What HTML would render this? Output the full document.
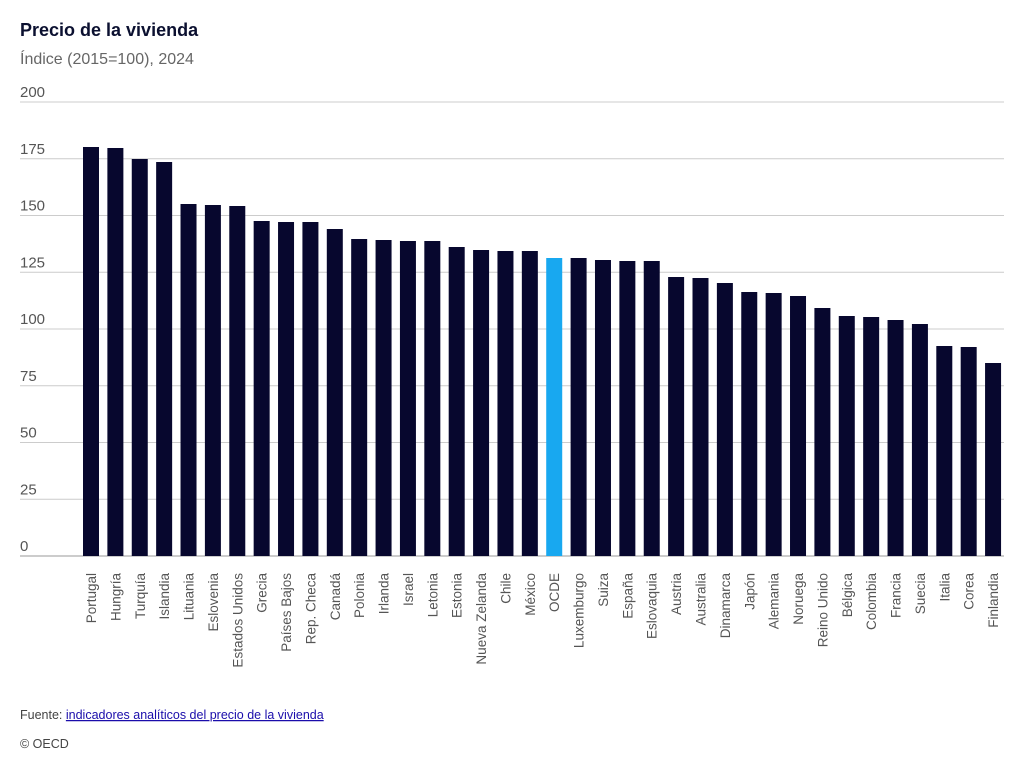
<!DOCTYPE html>
<html><head><meta charset="utf-8"><style>
body{margin:0;background:#fff;width:1024px;height:768px;overflow:hidden;font-family:"Liberation Sans","DejaVu Sans",sans-serif}
</style></head><body>
<svg width="1024" height="768" xmlns="http://www.w3.org/2000/svg" font-family="Liberation Sans, DejaVu Sans, sans-serif">
<text x="20" y="36" font-size="18" font-weight="bold" fill="#0b1030">Precio de la vivienda</text>
<text x="20" y="64" font-size="16" fill="#666">Índice (2015=100), 2024</text>
<g id="grid"></g>
<g id="bars"></g>
<g id="labels" font-size="13.5" fill="#555"></g>
<text x="20" y="719" font-size="12.5" fill="#444">Fuente: <tspan fill="#1a0dab" text-decoration="underline">indicadores analíticos del precio de la vivienda</tspan></text>
<text x="20" y="748" font-size="12.5" fill="#444">© OECD</text>
<script>
const ns="http://www.w3.org/2000/svg";
const g=document.getElementById('grid');
for(let i=0;i<=8;i++){const y=556-i*56.75;
 const l=document.createElementNS(ns,'line');l.setAttribute('x1',20);l.setAttribute('x2',1004);l.setAttribute('y1',y);l.setAttribute('y2',y);
 l.setAttribute('stroke',i==0?'#999':'#ccc');l.setAttribute('stroke-width',1);g.appendChild(l);
 const t=document.createElementNS(ns,'text');t.setAttribute('x',20);t.setAttribute('y',y-5);t.setAttribute('font-size','15');t.setAttribute('fill','#555');t.textContent=i*25;g.appendChild(t);}
const d=[["Portugal",147],["Hungría",148],["Turquía",159],["Islandia",162],["Lituania",204],["Eslovenia",205],["Estados Unidos",206],["Grecia",221],["Países Bajos",222],["Rep. Checa",222],["Canadá",229],["Polonia",239],["Irlanda",240],["Israel",241],["Letonia",241],["Estonia",247],["Nueva Zelanda",250],["Chile",251],["México",251],["OCDE",258],["Luxemburgo",258],["Suiza",260],["España",261],["Eslovaquia",261],["Austria",277],["Australia",278],["Dinamarca",283],["Japón",292],["Alemania",293],["Noruega",296],["Reino Unido",308],["Bélgica",316],["Colombia",317],["Francia",320],["Suecia",324],["Italia",346],["Corea",347],["Finlandia",363]];
const b=document.getElementById('bars'),L=document.getElementById('labels');
d.forEach((e,i)=>{const x=83+i*24.38;
 const r=document.createElementNS(ns,'rect');r.setAttribute('x',x);r.setAttribute('y',e[1]);r.setAttribute('width',16);r.setAttribute('height',556-e[1]);r.setAttribute('fill',e[0]=="OCDE"?"#18a8f0":"#07072e");b.appendChild(r);
 const t=document.createElementNS(ns,'text');const cx=x+8+5;t.setAttribute('transform',`translate(${cx},573) rotate(-90)`);t.setAttribute('text-anchor','end');t.textContent=e[0];L.appendChild(t);});
</script>
</svg>
</body></html>
